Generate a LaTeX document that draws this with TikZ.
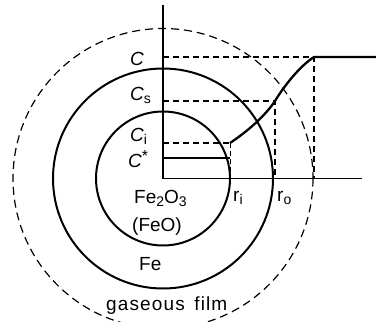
\documentclass[tikz,border=0pt]{standalone}
\usepackage{fontspec}
\setmainfont{Liberation Sans}
\begin{document}
\begin{tikzpicture}[x=1pt,y=-1pt,
  lbl/.style={inner sep=0pt,anchor=base west,font=\fontsize{19}{19}\selectfont},
  clbl/.style={lbl,font=\fontsize{19}{19}\selectfont\itshape},
  ring/.style={line width=2pt},
  film/.style={line width=1.2pt,dash pattern=on 8pt off 5pt},
  guide/.style={line width=1.1pt,dash pattern=on 6pt off 4pt},
  axis/.style={line width=1.1pt},
  profile/.style={line width=2.3pt,line join=miter}]
\useasboundingbox (0,0) rectangle (376,322);
\clip (0,0) rectangle (376,322);
\coordinate (O) at (163,178.5);
% circles
\draw[film] (O) circle[radius=150];
\draw[ring] (O) circle[radius=110];
\draw[ring] (O) circle[radius=67];
% axes
\coordinate (Ytop) at (163,5);
\coordinate (Xend) at (362,178.5);
\draw[axis] (Ytop) -- (O) -- (Xend);
% level coordinates
\coordinate (Cax) at (163,57);
\coordinate (Csax) at (163,101);
\coordinate (Ciax) at (163,143);
\coordinate (Csax2) at (163,158);
\coordinate (Pi) at (230,143);
\coordinate (Ps) at (275,101);
\coordinate (Po) at (314,57);
\coordinate (Pend) at (376,57);
\coordinate (Bi) at (230,178.5);
\coordinate (Bs) at (275,178.5);
\coordinate (Bo) at (314,178.5);
\coordinate (Pstar) at (230,158);
% guide lines
\draw[guide] (Cax) -- (Po) -- (Bo);
\draw[guide] (Csax) -- (Ps) -- (Bs);
\draw[guide] (Ciax) -- (Pi);
\draw[line width=0.9pt,dash pattern=on 5pt off 3pt] (Pi) -- (Bi);
\draw[axis] (Csax2) -- (Pstar);
% concentration profile
\draw[profile] (Pi) .. controls (248,131) and (265,116) .. (Ps)
  .. controls (284,86) and (300,66) .. (Po) -- (Pend);
% labels
\node[clbl] (lc) at (130,65) {C};
\node[clbl] (lcs) at (130,100) {C\raisebox{-3pt}{\fontsize{14}{14}\selectfont\upshape s}};
\node[clbl] (lci) at (130,141) {C\raisebox{-3pt}{\fontsize{14}{14}\selectfont\upshape i}};
\node[clbl] (lcstar) at (128,167) {C\raisebox{6pt}{\fontsize{16}{16}\selectfont\upshape *}};
\node[lbl] (fe2o3) at (134,203) {Fe\raisebox{-3pt}{\fontsize{14}{14}\selectfont 2}O\raisebox{-3pt}{\fontsize{14}{14}\selectfont 3}};
\node[lbl] (feo) at (132,231) {(FeO)};
\node[lbl] (fe) at (139,270) {Fe};
\node[lbl] (gas) at (106,310) {\addfontfeature{LetterSpace=6}gaseous\hspace{0.5em}film};
\node[lbl] (ri) at (233,201) {r\raisebox{-3pt}{\fontsize{14}{14}\selectfont i}};
\node[lbl] (ro) at (277,201) {r\raisebox{-3pt}{\fontsize{14}{14}\selectfont o}};
\end{tikzpicture}
\end{document}
